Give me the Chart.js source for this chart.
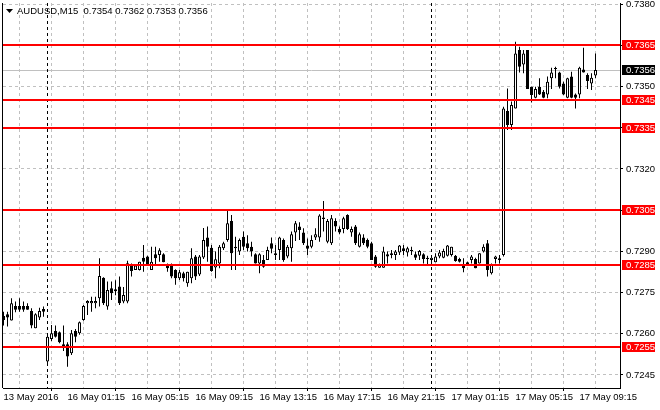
<!DOCTYPE html>
<html>
<head>
<meta charset="utf-8">
<script src="https://cdn.jsdelivr.net/npm/chart.js@4.4.1/dist/chart.umd.min.js"></script>
<style>
	html, body { margin: 0; padding: 0; background: #fff; }
	canvas { display: block; }
</style>
</head>
<body>
<canvas id="chart" width="660" height="410"></canvas>
<script>
// AUDUSD M15, bars from 13 May 21:15 to 17 May 10:15
const opens = [
	0.72665, 0.72671, 0.72648, 0.72701, 0.72701, 0.72701, 0.72701, 0.72683, 0.72620, 0.72659,
	0.72690, 0.72499, 0.72581, 0.72610, 0.72605, 0.72562, 0.72562, 0.72529, 0.72610, 0.72602,
	0.72650, 0.72711, 0.72711, 0.72711, 0.72729, 0.72804, 0.72699, 0.72766, 0.72762, 0.72772,
	0.72717, 0.72717, 0.72848, 0.72832, 0.72832, 0.72877, 0.72881, 0.72832, 0.72889, 0.72887,
	0.72889, 0.72850, 0.72850, 0.72832, 0.72802, 0.72820, 0.72784, 0.72802, 0.72881, 0.72816,
	0.72878, 0.72950, 0.72913, 0.72841, 0.72856, 0.72911, 0.72941, 0.73010, 0.72917, 0.72899,
	0.72953, 0.72929, 0.72917, 0.72889, 0.72856, 0.72868, 0.72868, 0.72929, 0.72893, 0.72905,
	0.72941, 0.72881, 0.72911, 0.72969, 0.72990, 0.72969, 0.72921, 0.72917, 0.72950, 0.72950,
	0.73023, 0.72935, 0.72929, 0.73010, 0.72981, 0.72981, 0.73032, 0.72969, 0.72990, 0.72917,
	0.72950, 0.72941, 0.72929, 0.72881, 0.72840, 0.72840, 0.72889, 0.72887, 0.72887, 0.72896,
	0.72911, 0.72896, 0.72905, 0.72889, 0.72884, 0.72889, 0.72877, 0.72868, 0.72860, 0.72881,
	0.72877, 0.72884, 0.72887, 0.72884, 0.72872, 0.72853, 0.72853, 0.72868, 0.72872, 0.72856,
	0.72899, 0.72929, 0.72820, 0.72872, 0.72868, 0.72887, 0.73411, 0.73360, 0.73420, 0.73633,
	0.73580, 0.73633, 0.73499, 0.73459, 0.73499, 0.73481, 0.73471, 0.73530, 0.73564, 0.73551,
	0.73511, 0.73459, 0.73536, 0.73471, 0.73471, 0.73562, 0.73542, 0.73511, 0.73540
]
const highs = [
	0.72680, 0.72680, 0.72729, 0.72717, 0.72729, 0.72717, 0.72711, 0.72693, 0.72675, 0.72695,
	0.72699, 0.72596, 0.72632, 0.72630, 0.72608, 0.72630, 0.72569, 0.72614, 0.72617, 0.72645,
	0.72705, 0.72722, 0.72735, 0.72735, 0.72875, 0.72806, 0.72790, 0.72790, 0.72795, 0.72808,
	0.72770, 0.72866, 0.72856, 0.72853, 0.72862, 0.72923, 0.72884, 0.72917, 0.72917, 0.72911,
	0.72893, 0.72856, 0.72856, 0.72835, 0.72832, 0.72826, 0.72826, 0.72911, 0.72887, 0.72887,
	0.72985, 0.72990, 0.72923, 0.72899, 0.72923, 0.72935, 0.73047, 0.73032, 0.72953, 0.72947,
	0.72972, 0.72959, 0.72935, 0.72893, 0.72893, 0.72887, 0.72917, 0.72950, 0.72923, 0.72953,
	0.72947, 0.72923, 0.72972, 0.73010, 0.73006, 0.72984, 0.72947, 0.72959, 0.72984, 0.73035,
	0.73083, 0.73018, 0.73032, 0.73020, 0.72990, 0.73026, 0.73035, 0.72990, 0.72996, 0.72969,
	0.72962, 0.72947, 0.72935, 0.72887, 0.72856, 0.72917, 0.72899, 0.72905, 0.72905, 0.72923,
	0.72923, 0.72917, 0.72917, 0.72899, 0.72905, 0.72893, 0.72884, 0.72887, 0.72893, 0.72905,
	0.72909, 0.72923, 0.72917, 0.72887, 0.72877, 0.72875, 0.72862, 0.72887, 0.72877, 0.72893,
	0.72926, 0.72941, 0.72856, 0.72884, 0.72887, 0.73426, 0.73493, 0.73445, 0.73663, 0.73645,
	0.73633, 0.73633, 0.73499, 0.73499, 0.73530, 0.73487, 0.73536, 0.73568, 0.73572, 0.73554,
	0.73517, 0.73532, 0.73554, 0.73475, 0.73572, 0.73641, 0.73548, 0.73548, 0.73620
]
const lows = [
	0.72630, 0.72626, 0.72648, 0.72678, 0.72680, 0.72680, 0.72687, 0.72620, 0.72620, 0.72650,
	0.72662, 0.72486, 0.72574, 0.72586, 0.72565, 0.72537, 0.72480, 0.72523, 0.72569, 0.72596,
	0.72647, 0.72668, 0.72680, 0.72693, 0.72699, 0.72705, 0.72687, 0.72723, 0.72740, 0.72705,
	0.72711, 0.72711, 0.72808, 0.72832, 0.72830, 0.72826, 0.72850, 0.72832, 0.72850, 0.72862,
	0.72860, 0.72826, 0.72802, 0.72778, 0.72796, 0.72790, 0.72771, 0.72784, 0.72796, 0.72810,
	0.72872, 0.72862, 0.72826, 0.72802, 0.72838, 0.72905, 0.72935, 0.72832, 0.72832, 0.72887,
	0.72905, 0.72899, 0.72881, 0.72856, 0.72820, 0.72840, 0.72868, 0.72893, 0.72868, 0.72868,
	0.72862, 0.72875, 0.72862, 0.72938, 0.72941, 0.72923, 0.72887, 0.72911, 0.72941, 0.72935,
	0.72972, 0.72929, 0.72923, 0.72972, 0.72962, 0.72966, 0.72978, 0.72953, 0.72923, 0.72914,
	0.72923, 0.72911, 0.72868, 0.72840, 0.72840, 0.72840, 0.72856, 0.72875, 0.72868, 0.72887,
	0.72887, 0.72881, 0.72887, 0.72868, 0.72868, 0.72856, 0.72853, 0.72860, 0.72860, 0.72875,
	0.72875, 0.72881, 0.72881, 0.72862, 0.72859, 0.72824, 0.72850, 0.72856, 0.72838, 0.72856,
	0.72896, 0.72808, 0.72816, 0.72856, 0.72856, 0.72881, 0.73342, 0.73342, 0.73420, 0.73551,
	0.73548, 0.73491, 0.73442, 0.73457, 0.73469, 0.73457, 0.73457, 0.73491, 0.73530, 0.73493,
	0.73469, 0.73457, 0.73457, 0.73420, 0.73457, 0.73551, 0.73491, 0.73487, 0.73530
]
const closes = [
	0.72650, 0.72659, 0.72711, 0.72687, 0.72687, 0.72687, 0.72687, 0.72630, 0.72671, 0.72683,
	0.72680, 0.72589, 0.72602, 0.72589, 0.72569, 0.72549, 0.72517, 0.72602, 0.72589, 0.72642,
	0.72701, 0.72719, 0.72719, 0.72719, 0.72810, 0.72711, 0.72759, 0.72747, 0.72755, 0.72711,
	0.72741, 0.72857, 0.72828, 0.72848, 0.72862, 0.72862, 0.72853, 0.72862, 0.72875, 0.72904,
	0.72860, 0.72838, 0.72808, 0.72802, 0.72824, 0.72802, 0.72826, 0.72875, 0.72808, 0.72881,
	0.72941, 0.72917, 0.72828, 0.72871, 0.72917, 0.72929, 0.73002, 0.72893, 0.72911, 0.72941,
	0.72917, 0.72911, 0.72899, 0.72856, 0.72889, 0.72844, 0.72905, 0.72909, 0.72887, 0.72950,
	0.72868, 0.72917, 0.72962, 0.73002, 0.72978, 0.72929, 0.72909, 0.72941, 0.72962, 0.73030,
	0.73018, 0.73010, 0.73020, 0.72990, 0.72969, 0.73020, 0.72981, 0.72981, 0.72929, 0.72962,
	0.72929, 0.72917, 0.72868, 0.72844, 0.72853, 0.72899, 0.72881, 0.72893, 0.72899, 0.72921,
	0.72901, 0.72911, 0.72901, 0.72877, 0.72901, 0.72872, 0.72872, 0.72877, 0.72881, 0.72896,
	0.72901, 0.72921, 0.72917, 0.72865, 0.72862, 0.72838, 0.72860, 0.72881, 0.72838, 0.72893,
	0.72917, 0.72832, 0.72853, 0.72881, 0.72875, 0.73420, 0.73360, 0.73433, 0.73620, 0.73572,
	0.73620, 0.73491, 0.73469, 0.73491, 0.73471, 0.73459, 0.73517, 0.73551, 0.73566, 0.73499,
	0.73471, 0.73530, 0.73459, 0.73459, 0.73568, 0.73551, 0.73520, 0.73532, 0.73560
]

const symbol = 'AUDUSD,M15'
// подписи по оси времени, через каждые 16 баров
const timeLabels = [
	'13 May 2016', '16 May 01:15', '16 May 05:15', '16 May 09:15', '16 May 13:15',
	'16 May 17:15', '16 May 21:15', '17 May 01:15', '17 May 05:15', '17 May 09:15',
]
const priceTicks = [0.7245, 0.7260, 0.7275, 0.7290, 0.7305, 0.7320, 0.7335, 0.7350, 0.7365, 0.7380]
const levels = [0.7365, 0.7345, 0.7335, 0.7305, 0.7285, 0.7255] // горизонтальные уровни
const daySeparators = [11, 107] // бары начала дня
const bidPrice = closes[closes.length - 1]

const FONT = '9.5px "Liberation Sans", Arial, sans-serif'
const fmt = v => v.toFixed(4)

const isBull = i => closes[i] >= opens[i]

const bodies = {
	data: closes.map((c, i) => ({ x: i, y: [Math.min(opens[i], c), Math.max(opens[i], c)] })),
	backgroundColor: closes.map((c, i) => (isBull(i) ? '#ffffff' : '#000000')),
	borderColor: '#000000',
	borderWidth: 1,
	borderSkipped: false,
	barThickness: 3,
	minBarLength: 1,
	inflateAmount: 0,
	grouped: false,
}

const wicks = {
	data: highs.map((h, i) => ({ x: i, y: [lows[i], h] })),
	backgroundColor: '#000000',
	borderWidth: 0,
	barThickness: 1,
	inflateAmount: 0,
	grouped: false,
}

function priceLabel(ctx, y, text, bg) {
	ctx.fillStyle = bg
	ctx.fillRect(622, Math.round(y) - 5, 33, 10)
	ctx.fillStyle = '#ffffff'
	ctx.font = FONT
	ctx.textBaseline = 'middle'
	ctx.textAlign = 'left'
	ctx.fillText(text, 626, Math.round(y) + 0.5)
}

const overlay = {
	id: 'overlay',
	beforeDatasetsDraw(chart) {
		const { ctx, chartArea: a, scales } = chart
		ctx.save()
		// линия Bid
		const yb = Math.round(scales.y.getPixelForValue(bidPrice)) + 0.5
		ctx.strokeStyle = '#c0c0c0'
		ctx.lineWidth = 1
		ctx.beginPath()
		ctx.moveTo(a.left, yb)
		ctx.lineTo(a.right, yb)
		ctx.stroke()
		// разделители дней
		ctx.strokeStyle = '#000000'
		ctx.setLineDash([3, 3])
		daySeparators.forEach(b => {
			const x = Math.floor(scales.x.getPixelForValue(b)) + 0.5
			ctx.beginPath()
			ctx.moveTo(x, a.top)
			ctx.lineTo(x, a.bottom)
			ctx.stroke()
		})
		ctx.setLineDash([])
		// левая рамка
		ctx.beginPath()
		ctx.moveTo(a.left - 0.5, a.top)
		ctx.lineTo(a.left - 0.5, a.bottom)
		ctx.stroke()
		ctx.restore()
	},
	afterDatasetsDraw(chart) {
		const { ctx, chartArea: a, scales } = chart
		ctx.save()
		ctx.strokeStyle = '#ff0000'
		ctx.lineWidth = 2
		levels.forEach(v => {
			const y = Math.round(scales.y.getPixelForValue(v))
			ctx.beginPath()
			ctx.moveTo(a.left, y)
			ctx.lineTo(a.right, y)
			ctx.stroke()
		})
		ctx.restore()
	},
	afterDraw(chart) {
		const { ctx, scales } = chart
		ctx.save()
		levels.forEach(v => priceLabel(ctx, scales.y.getPixelForValue(v), fmt(v), '#ff0000'))
		priceLabel(ctx, scales.y.getPixelForValue(bidPrice), fmt(bidPrice), '#000000')
		// заголовок
		ctx.fillStyle = '#000000'
		ctx.beginPath()
		ctx.moveTo(6, 9)
		ctx.lineTo(13, 9)
		ctx.lineTo(9.5, 13)
		ctx.closePath()
		ctx.fill()
		const n = closes.length - 1
		ctx.font = FONT
		ctx.textBaseline = 'alphabetic'
		ctx.fillText(
			symbol + '  ' + [opens[n], highs[n], lows[n], closes[n]].map(fmt).join(' '),
			17,
			14
		)
		ctx.restore()
	},
}

new Chart(document.getElementById('chart'), {
	type: 'bar',
	data: { datasets: [bodies, wicks] },
	options: {
		responsive: false,
		animation: false,
		devicePixelRatio: 1,
		layout: { padding: { left: 3, top: 3, right: 0, bottom: 0 } },
		plugins: { legend: { display: false }, tooltip: { enabled: false } },
		scales: {
			x: {
				type: 'linear',
				offset: false,
				min: -0.125,
				max: 154.125,
				afterBuildTicks: s => {
					const t = []
					for (let v = 0; v <= 152; v += 8) t.push({ value: v })
					s.ticks = t
				},
				afterFit: s => {
					s.height = 22
					s.paddingLeft = 0
					s.paddingRight = 0
				},
				ticks: {
					autoSkip: false,
					maxRotation: 0,
					minRotation: 0,
					align: 'start',
					padding: 1,
					color: '#000000',
					font: { family: '"Liberation Sans", Arial, sans-serif', size: 9.5 },
					callback: v => (v % 16 === 0 ? timeLabels[v / 16] : ''),
				},
				grid: {
					color: '#c0c0c0',
					lineWidth: 1,
					tickLength: 3,
					tickColor: c => (c.tick && c.tick.value % 16 === 0 ? '#000000' : 'rgba(0,0,0,0)'),
				},
				border: { display: true, color: '#000000', width: 1, dash: [3, 3] },
			},
			y: {
				position: 'right',
				min: 0.724025,
				max: 0.73804,
				afterBuildTicks: s => {
					s.ticks = priceTicks.map(v => ({ value: v }))
				},
				afterFit: s => {
					s.width = 40
					s.paddingTop = 0
					s.paddingBottom = 0
				},
				ticks: {
					padding: 3,
					color: '#000000',
					font: { family: '"Liberation Sans", Arial, sans-serif', size: 9.5 },
					callback: v => fmt(v),
				},
				grid: {
					color: '#c0c0c0',
					lineWidth: 1,
					tickLength: 3,
					tickColor: '#000000',
				},
				border: { display: true, color: '#000000', width: 1, dash: [3, 3] },
			},
		},
	},
	plugins: [overlay],
})
</script>
</body>
</html>
